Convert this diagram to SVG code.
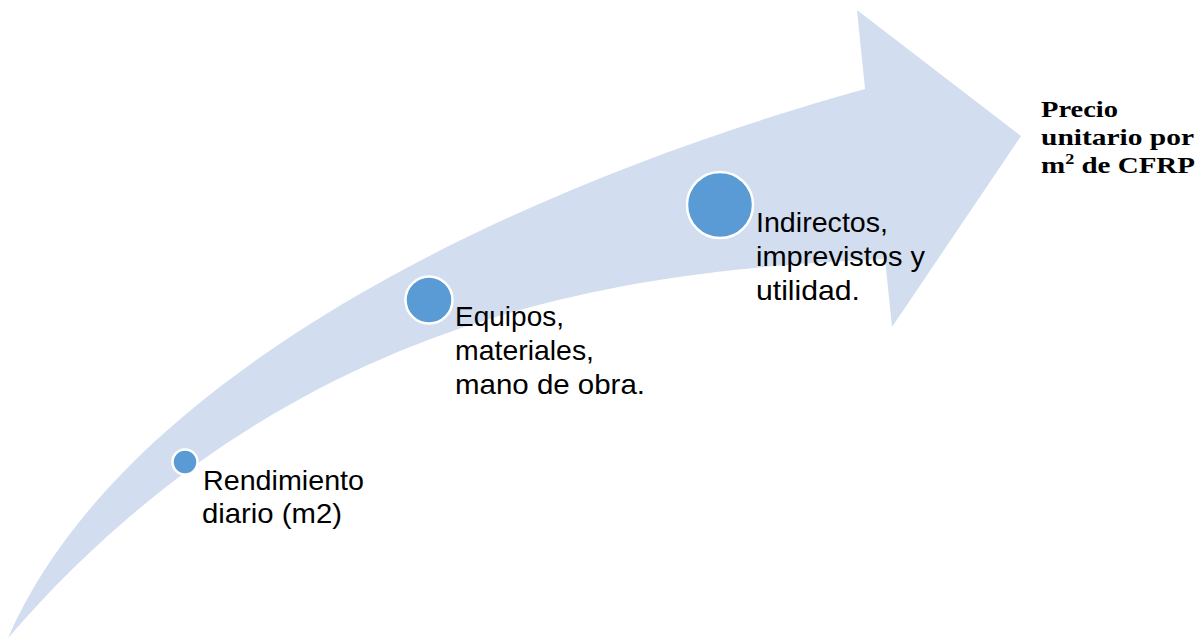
<svg xmlns="http://www.w3.org/2000/svg" width="1202" height="643" viewBox="0 0 1202 643">
<style>
.arrow{fill:#D2DEEF;stroke:none}
.dot{fill:#5B9BD5;stroke:#FFFFFF;stroke-width:2.5}
.lbl{font-family:"Liberation Sans",Arial,sans-serif;font-size:28.5px;fill:#000}
.res{font-family:"Liberation Serif","Times New Roman",serif;font-size:24px;font-weight:bold;fill:#000}
</style>
<rect width="1202" height="643" fill="#FFFFFF"/>
<g id="connectors">
<path id="arrow" class="arrow" d="M8,638 C120,380 500,190 865,89 L857,10 L1021,136 L892,327 L885,259 C650,270 300,300 8,638 Z"/>
</g>
<g id="node-rendimiento">
<circle class="dot" cx="185" cy="462" r="12.5"/>
<text class="lbl" x="203" y="490" textLength="161" lengthAdjust="spacingAndGlyphs">Rendimiento</text>
<text class="lbl" x="202" y="523" textLength="140" lengthAdjust="spacingAndGlyphs">diario (m2)</text>
</g>
<g id="node-equipos">
<circle class="dot" cx="429" cy="300" r="23.5"/>
<text class="lbl" x="455" y="326" textLength="109" lengthAdjust="spacingAndGlyphs">Equipos,</text>
<text class="lbl" x="455" y="360" textLength="139" lengthAdjust="spacingAndGlyphs">materiales,</text>
<text class="lbl" x="455" y="394" textLength="190" lengthAdjust="spacingAndGlyphs">mano de obra.</text>
</g>
<g id="node-indirectos">
<circle class="dot" cx="720" cy="205" r="33"/>
<text class="lbl" x="756" y="232" textLength="132" lengthAdjust="spacingAndGlyphs">Indirectos,</text>
<text class="lbl" x="756" y="266" textLength="169" lengthAdjust="spacingAndGlyphs">imprevistos y</text>
<text class="lbl" x="756" y="300" textLength="104" lengthAdjust="spacingAndGlyphs">utilidad.</text>
</g>
<g id="node-precio">
<text class="res" x="1041" y="117" textLength="77" lengthAdjust="spacingAndGlyphs">Precio</text>
<text class="res" x="1041" y="145" textLength="153" lengthAdjust="spacingAndGlyphs">unitario por</text>
<text class="res" x="1041" y="173" textLength="154" lengthAdjust="spacingAndGlyphs">m<tspan font-size="15" dy="-9">2</tspan><tspan dy="9"> de CFRP</tspan></text>
</g>
</svg>
